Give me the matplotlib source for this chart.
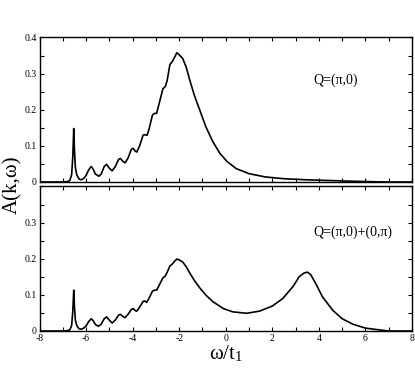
import numpy as np
import matplotlib
matplotlib.use("Agg")
import matplotlib.pyplot as plt
from matplotlib.ticker import MultipleLocator, FormatStrFormatter

plt.rcParams['font.family'] = ['Liberation Serif', 'DejaVu Serif']
plt.rcParams['axes.unicode_minus'] = False
plt.rcParams['mathtext.fontset'] = 'stix'

# spectral function, Q=(pi,0)
w_top = [-8.0, -7.0, -6.8, -6.7, -6.62, -6.57, -6.53, -6.50, -6.46, -6.4, -6.3, -6.2,
         -6.1, -6.0, -5.9, -5.78, -5.7, -5.6, -5.45, -5.35, -5.22, -5.12, -5.0, -4.88,
         -4.75, -4.6, -4.52, -4.42, -4.32, -4.2, -4.05, -3.98, -3.88, -3.82, -3.7, -3.55,
         -3.48, -3.38, -3.3, -3.15, -3.06, -2.97, -2.85, -2.7, -2.6, -2.52, -2.4, -2.3,
         -2.2, -2.1, -2.0, -1.85, -1.7, -1.55, -1.35, -1.1, -0.85, -0.55, -0.25, 0.05,
         0.45, 1.0, 1.7, 2.5, 3.5, 4.5, 5.5, 6.5, 7.0, 8.0]
a_top = [0, 0, 0.001, 0.004, 0.02, 0.07, 0.148, 0.09, 0.04, 0.02, 0.008, 0.006,
         0.01, 0.018, 0.032, 0.043, 0.036, 0.022, 0.016, 0.022, 0.043, 0.049, 0.038, 0.031,
         0.042, 0.063, 0.065, 0.057, 0.053, 0.066, 0.091, 0.093, 0.085, 0.083, 0.1, 0.13,
         0.131, 0.129, 0.145, 0.185, 0.19, 0.19, 0.22, 0.258, 0.264, 0.28, 0.325, 0.333,
         0.345, 0.358, 0.352, 0.342, 0.318, 0.283, 0.24, 0.196, 0.152, 0.111, 0.079, 0.057,
         0.037, 0.023, 0.014, 0.009, 0.006, 0.004, 0.002, 0.0005, 0, 0]

# Q=(pi,0)+(0,pi)
w_bot = [-8.0, -7.0, -6.8, -6.7, -6.62, -6.57, -6.53, -6.50, -6.46, -6.4, -6.3, -6.2,
         -6.1, -6.0, -5.9, -5.78, -5.7, -5.6, -5.47, -5.35, -5.22, -5.12, -5.0, -4.88,
         -4.75, -4.6, -4.52, -4.42, -4.33, -4.2, -4.05, -3.98, -3.88, -3.82, -3.7, -3.55,
         -3.48, -3.4, -3.3, -3.15, -3.06, -2.97, -2.85, -2.7, -2.6, -2.52, -2.4, -2.3,
         -2.2, -2.1, -2.0, -1.85, -1.7, -1.55, -1.35, -1.1, -0.85, -0.55, -0.1, 0.3,
         0.9, 1.45, 2.0, 2.45, 2.9, 3.15, 3.35, 3.5, 3.65, 3.9, 4.15, 4.6, 5.0, 5.45,
         6.0, 6.6, 7.0, 8.0]
a_bot = [0, 0, 0.001, 0.003, 0.015, 0.055, 0.113, 0.07, 0.03, 0.015, 0.006, 0.005,
         0.008, 0.014, 0.025, 0.034, 0.029, 0.018, 0.013, 0.019, 0.034, 0.039, 0.03, 0.022,
         0.03, 0.044, 0.046, 0.04, 0.037, 0.046, 0.06, 0.062, 0.056, 0.055, 0.066, 0.082,
         0.083, 0.079, 0.09, 0.11, 0.113, 0.113, 0.128, 0.147, 0.152, 0.162, 0.18, 0.185,
         0.193, 0.199, 0.197, 0.191, 0.178, 0.161, 0.14, 0.118, 0.099, 0.081, 0.062, 0.053,
         0.049, 0.055, 0.069, 0.09, 0.124, 0.15, 0.16, 0.163, 0.156, 0.127, 0.095, 0.057,
         0.034, 0.019, 0.008, 0.003, 0.0, 0]

fig = plt.figure(figsize=(4.15, 3.69), dpi=100)
ax1 = fig.add_axes([0.0952, 0.5068, 0.8976, 0.3916])
ax2 = fig.add_axes([0.0952, 0.1030, 0.8976, 0.3916])

for ax, w, a in [(ax1, w_top, a_top), (ax2, w_bot, a_bot)]:
    ax.plot(w, a, color='black', lw=1.2)
    ax.set_xlim(-8, 8)
    ax.set_ylim(0, 0.4)
    ax.xaxis.set_major_locator(MultipleLocator(2))
    ax.xaxis.set_minor_locator(MultipleLocator(1))
    ax.yaxis.set_major_locator(MultipleLocator(0.1))
    ax.yaxis.set_minor_locator(MultipleLocator(0.05))
    ax.yaxis.set_major_formatter(FormatStrFormatter('%g'))
    ax.tick_params(which='both', direction='in', top=True, right=True,
                   length=3, width=0.8, labelsize=7, pad=2)
    for s in ax.spines.values():
        s.set_linewidth(1.0)

ax1.tick_params(labelbottom=False)
ax2.set_yticks([0, 0.1, 0.2, 0.3])
ax2.yaxis.set_minor_locator(MultipleLocator(0.05))

ax1.text(0.735, 0.705, 'Q=(π,0)', transform=ax1.transAxes, fontsize=10,
         va='center', ha='left')
ax2.text(0.735, 0.68, 'Q=(π,0)+(0,π)', transform=ax2.transAxes, fontsize=10,
         va='center', ha='left')

fig.text(0.03, 0.5, 'A(k,ω)', rotation=90, fontsize=15, va='center', ha='center')
fig.text(0.545, 0.04, 'ω/t$_\\mathregular{1}$', fontsize=15, va='center', ha='center')

fig.savefig('out.png', dpi=100)
